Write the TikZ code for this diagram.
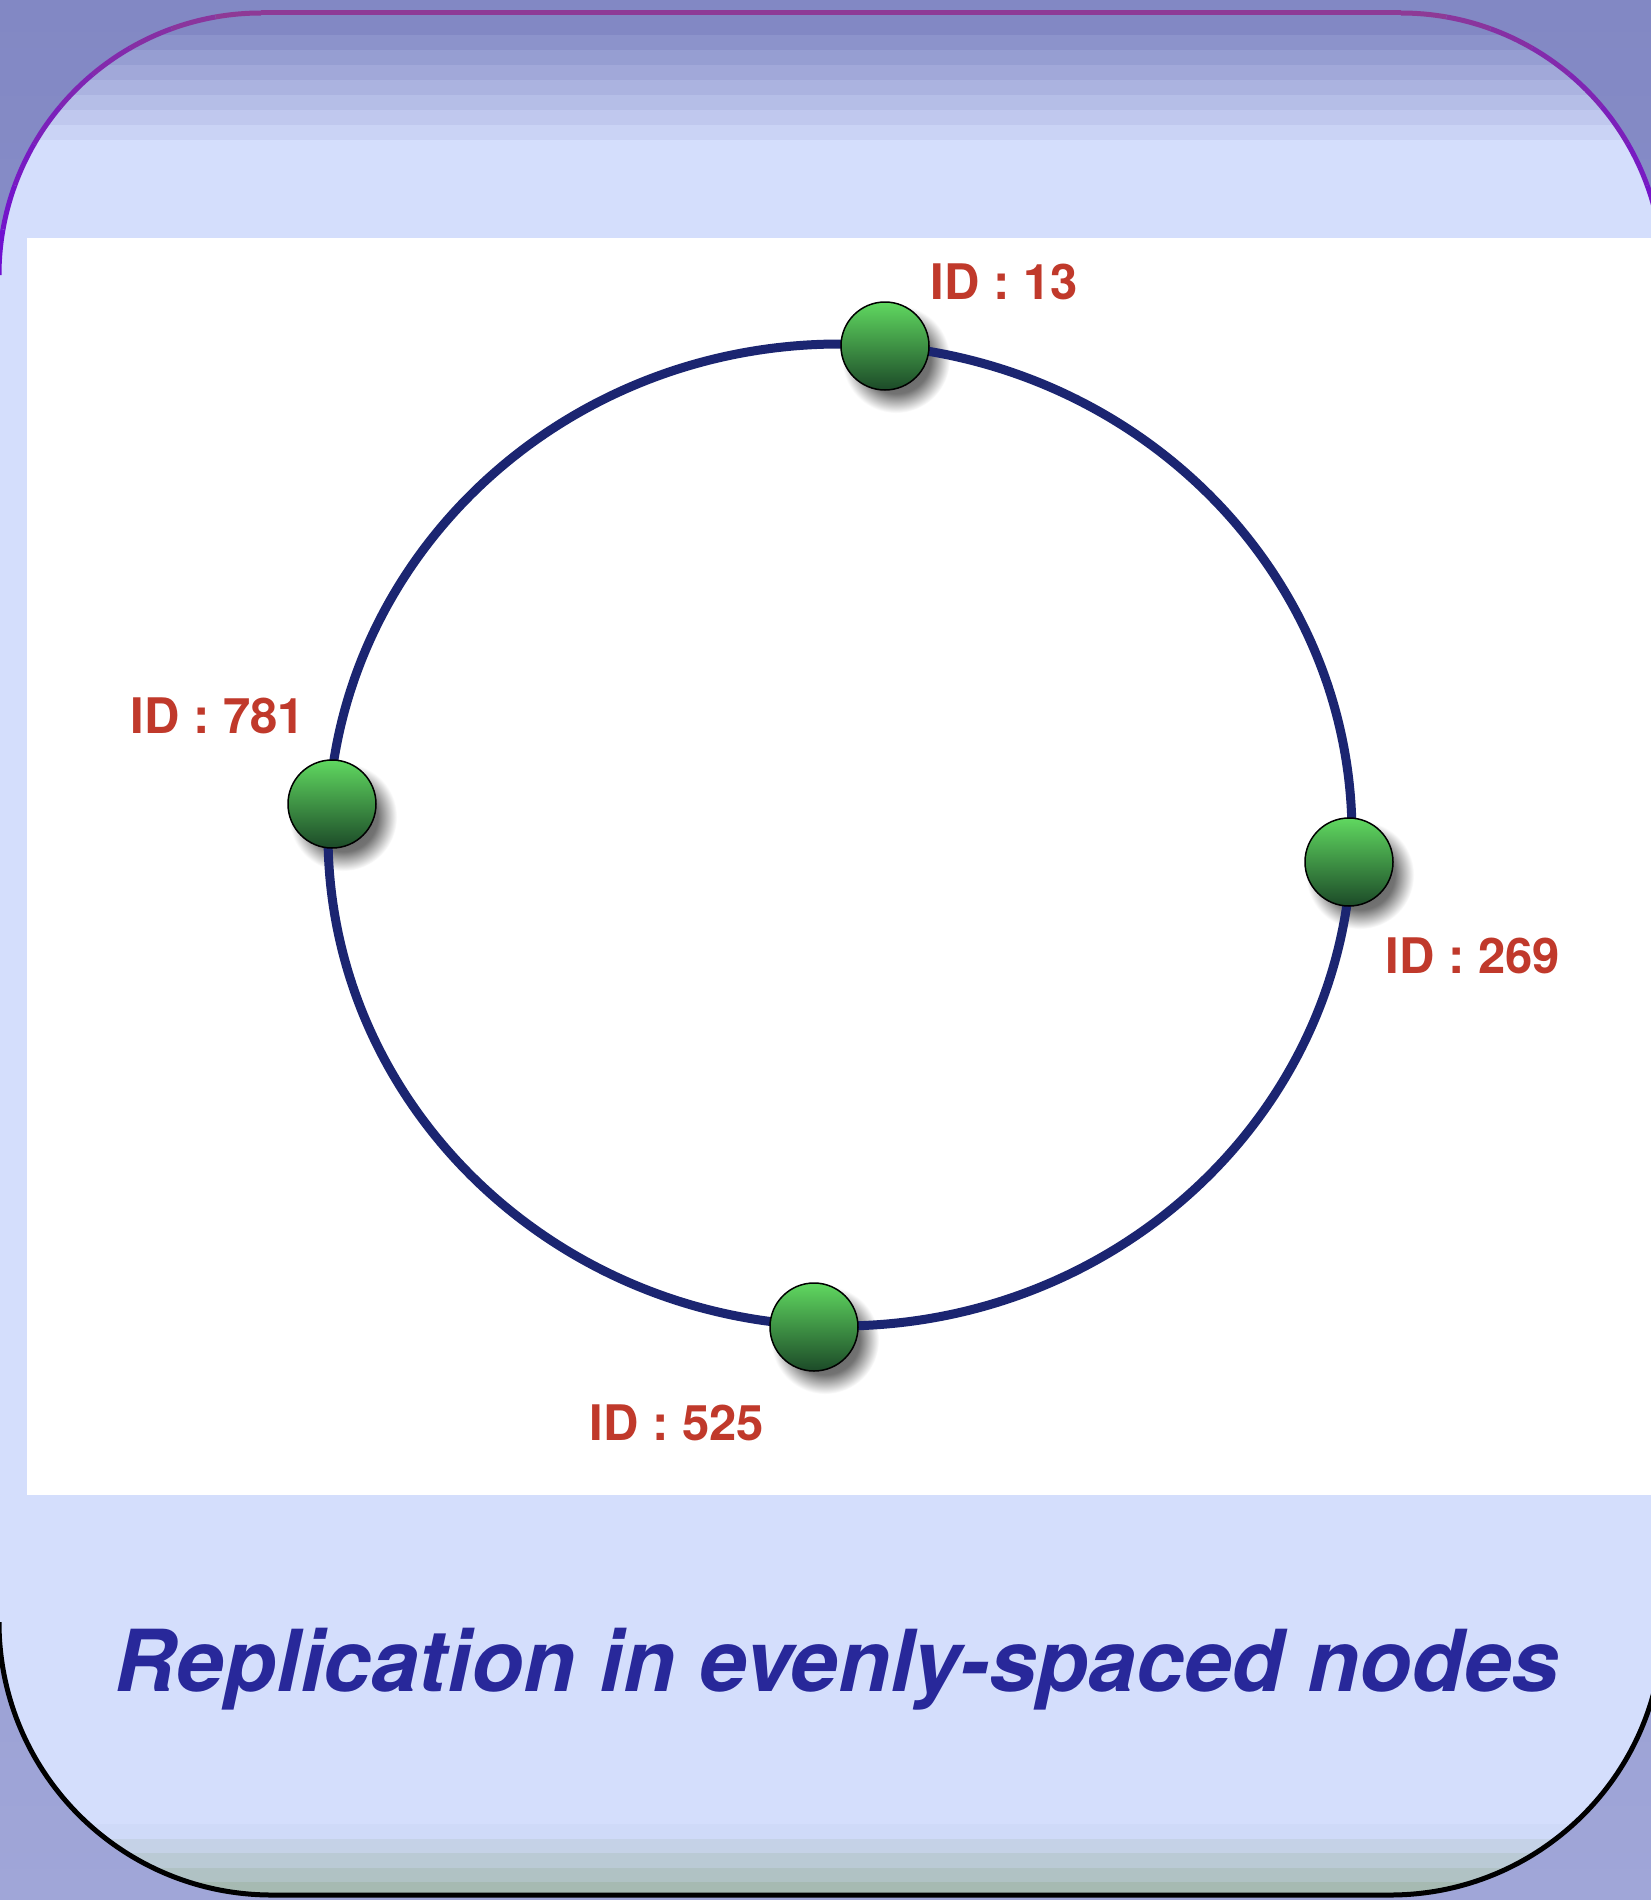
\documentclass[tikz,border=0pt]{standalone}
\usepackage{fontspec}
\setmainfont{TeX Gyre Heros}
\definecolor{bgtop}{RGB}{130,136,196}
\definecolor{bgbot}{RGB}{160,166,216}
\definecolor{panelc}{RGB}{212,222,252}
\definecolor{bandtop}{RGB}{130,136,196}
\definecolor{foottop}{RGB}{207,218,248}
\definecolor{footbot}{RGB}{166,186,178}
\definecolor{bordtop}{RGB}{142,58,150}
\definecolor{bordside}{RGB}{112,16,208}
\definecolor{ringc}{RGB}{27,37,113}
\definecolor{lblred}{RGB}{192,57,43}
\definecolor{titleblue}{RGB}{40,40,154}
\definecolor{gtop}{RGB}{96,216,96}
\definecolor{gbot}{RGB}{28,74,40}
\pgfdeclareradialshading{nshad}{\pgfpoint{0bp}{0bp}}{color(0bp)=(black!65); color(16bp)=(black!55); color(25bp)=(white); color(50bp)=(white)}
\def\panelpath{(-1,275) arc[start angle=180,end angle=270,radius=262] -- (1401,13) arc[start angle=270,end angle=360,radius=262] -- (1663,1622) arc[start angle=0,end angle=90,radius=273] -- (272,1895) arc[start angle=90,end angle=180,radius=273] -- cycle}
\begin{document}
\begin{tikzpicture}[x=1pt,y=-1pt,
  ring/.style={draw=ringc,line width=9pt},
  gnode/.style={circle,minimum size=88pt,inner sep=0pt,draw=black,line width=1.5pt,top color=gtop,bottom color=gbot},
  lbl/.style={text=lblred,anchor=base,inner sep=0pt,font=\fontsize{49}{58}\selectfont\bfseries},
  ttl/.style={text=titleblue,anchor=base,inner sep=0pt,font=\fontsize{85.5}{100}\selectfont\bfseries\itshape},
  nshadow/.style={shading=nshad}]
\useasboundingbox (0,0) rectangle (1651,1900);
\clip (0,0) rectangle (1651,1900);
% outer background
\shade[top color=bgtop,bottom color=bgbot] (0,0) rectangle (1651,1900);
% panel
\fill[panelc] \panelpath;
\begin{scope}
  \clip \panelpath;
  \fill[bandtop] (-5,0) rectangle (1670,35);
  \foreach \i in {1,...,7}{
    \pgfmathsetmacro\pc{100-\i*12.5}
    \fill[bandtop!\pc!panelc] (-5,{20+15*\i}) rectangle (1670,{35+15*\i});
  }
  \foreach \i in {0,...,4}{
    \pgfmathsetmacro\pc{\i*25}
    \fill[footbot!\pc!foottop] (-5,{1824+14.5*\i}) rectangle (1670,{1839+14.5*\i+20*(\i==4)});
  }
\end{scope}
% border
\draw[bordtop,line width=5pt] (261,13) -- (1401,13);
\foreach \j in {0,...,8}{
  \pgfmathsetmacro\pc{\j*12.5}
  \draw[bordside!\pc!bordtop,line width=5pt]
    ({261+262*cos(270-10*\j)},{275+262*sin(270-10*\j)}) arc[start angle={270-10*\j},end angle={260-10*\j},radius=262];
  \draw[bordside!\pc!bordtop,line width=5pt]
    ({1401+262*cos(270+10*\j)},{275+262*sin(270+10*\j)}) arc[start angle={270+10*\j},end angle={280+10*\j},radius=262];
}
\draw[black,line width=5pt] (-1,1622) arc[start angle=180,end angle=90,radius=273] -- (1390,1895) arc[start angle=90,end angle=0,radius=273];
% white content area
\fill[white] (27,238) rectangle (1670,1495);
% node shadows
\shade[nshadow] (896,359) circle (54);
\shade[nshadow] (1360,875) circle (54);
\shade[nshadow] (825,1340) circle (54);
\shade[nshadow] (343,817) circle (54);
% ring
\coordinate (ctr) at (840,835);
\draw[ring] (ctr) ellipse [x radius=512,y radius=491];
% nodes
\node[gnode] (n13) at (885,346) {};
\node[gnode] (n269) at (1349,862) {};
\node[gnode] (n525) at (814,1327) {};
\node[gnode] (n781) at (332,804) {};
% labels
\node[lbl] (l13) at (1004,299) {ID : 13};
\node[lbl] (l269) at (1473,973) {ID : 269};
\node[lbl] (l525) at (677,1440) {ID : 525};
\node[lbl] (l781) at (218,733) {ID : 781};
% title
\node[ttl] (title) at (837,1691) {Replication in evenly-spaced nodes};
\end{tikzpicture}
\end{document}
